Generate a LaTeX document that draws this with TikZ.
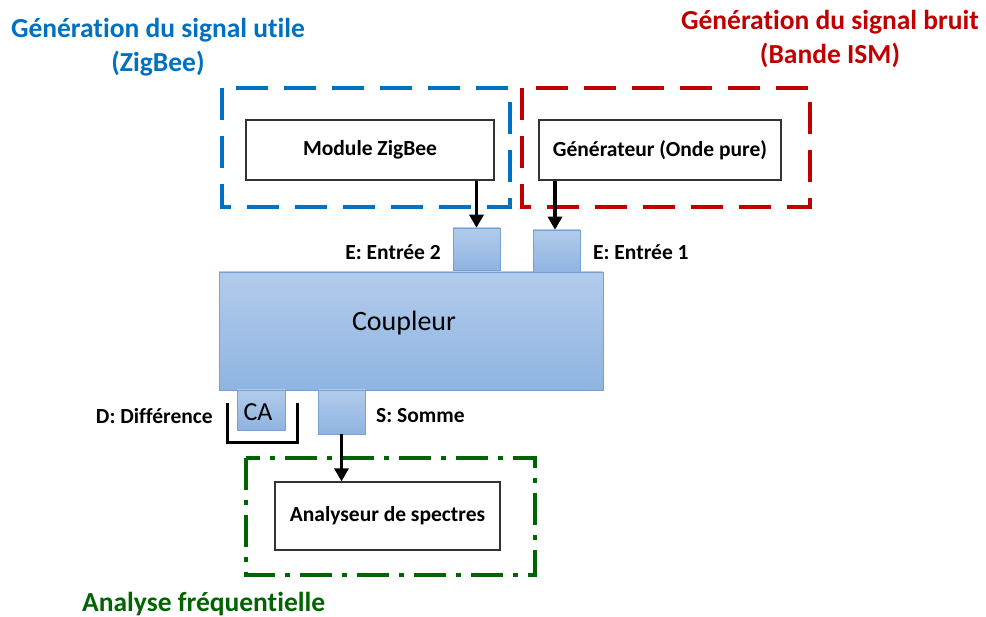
\documentclass[tikz,border=0pt]{standalone}
\usepackage{fontspec}
\setmainfont{Carlito}[Ligatures=NoCommon]
\usetikzlibrary{arrows.meta}
\definecolor{zbblue}{RGB}{0,112,192}
\definecolor{ismred}{RGB}{192,0,0}
\definecolor{anagreen}{RGB}{0,100,0}
\definecolor{ctop}{RGB}{178,203,235}
\definecolor{cbot}{RGB}{143,180,225}
\definecolor{cedge}{RGB}{120,160,210}
\begin{document}
\begin{tikzpicture}[x=1pt,y=-1pt,
  whitebox/.style={draw=black!80,line width=1.2pt,fill=white,inner sep=0pt},
  bluepart/.style={draw=cedge,line width=0.6pt,top color=ctop,bottom color=cbot,inner sep=0pt},
  grpbox/.style={line width=3.5pt},
  lbl/.style={font=\bfseries\fontsize{21.5}{25}\selectfont,inner sep=0pt},
  title/.style={font=\bfseries\fontsize{27.5}{34}\selectfont,inner sep=0pt,align=center},
  arr/.style={line width=3.2pt,-{Triangle[length=13pt,width=14pt]}}
]
\useasboundingbox (0,0) rectangle (986,617);
% group frames
\draw[grpbox,zbblue,dash pattern=on 32pt off 16pt] (222,88) rectangle (510,207);
\draw[grpbox,ismred,dash pattern=on 32pt off 16pt] (522,88) rectangle (810,207);
\draw[grpbox,anagreen,dash pattern=on 32pt off 10pt on 5pt off 10pt] (246,458) rectangle (535,575);
% titles
\node[title,text=zbblue] (t1) at (158,47) {Génération du signal utile\\(ZigBee)};
\node[title,text=ismred] (t2) at (830,39) {Génération du signal bruit\\(Bande ISM)};
\node[title,text=anagreen,anchor=west] (t3) at (82,604) {Analyse fréquentielle};
% boxes
\node[whitebox,minimum width=248pt,minimum height=60pt,lbl] (zb) at (370,150) {Module ZigBee};
\node[whitebox,minimum width=242pt,minimum height=60pt,lbl] (gen) at (660,150) {Générateur (Onde pure)};
\node[whitebox,minimum width=225pt,minimum height=68pt,lbl] (ana) at (387.5,516) {Analyseur de spectres};
% coupler
\node[bluepart,minimum width=384pt,minimum height=118pt] (coup) at (411,331) {};
\node[font=\fontsize{28}{32}\selectfont,inner sep=0pt] (coupt) at (404,323) {Coupleur};
\node[bluepart,minimum width=47pt,minimum height=42pt] (e2) at (476.5,249) {};
\node[bluepart,minimum width=47pt,minimum height=42pt] (e1) at (556.5,251) {};
\node[bluepart,minimum width=48pt,minimum height=40pt] (ca) at (261,410) {};
\node[font=\fontsize{26}{30}\selectfont,inner sep=0pt] (catext) at (258,412) {CA};
\node[bluepart,minimum width=47pt,minimum height=44pt] (s) at (341.5,412) {};
% labels
\node[lbl,anchor=east] (le2) at (441,252) {E: Entrée 2};
\node[lbl,anchor=west] (le1) at (593,252) {E: Entrée 1};
\node[lbl,anchor=east] (ld) at (213,416) {D: Différence};
\node[lbl,anchor=west] (ls) at (376,416) {S: Somme};
% bracket
\coordinate (b1) at (227,403);
\coordinate (b2) at (227,443);
\coordinate (b3) at (297,443);
\coordinate (b4) at (297,403);
\draw[line width=3pt] (b1) -- (b2) -- (b3) -- (b4);
% arrows
\draw[arr] (zb.south -| e2) -- (e2.north);
\draw[arr] (gen.south -| 555,0) -- (555,0 |- e1.north);
\draw[arr] (s.south) -- (s.south |- ana.north);
\end{tikzpicture}
\end{document}
